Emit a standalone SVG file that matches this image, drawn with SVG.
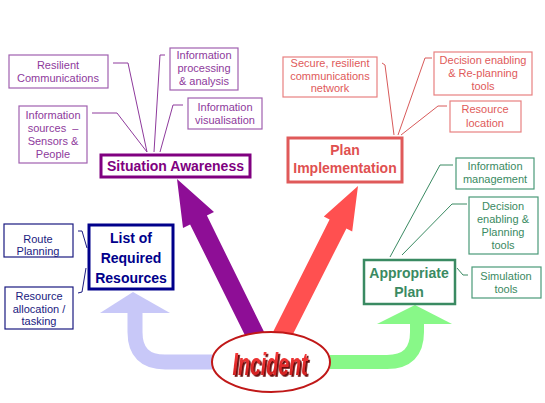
<svg xmlns="http://www.w3.org/2000/svg" width="545" height="403" viewBox="0 0 545 403">
<style>
text{font-family:"Liberation Sans",Arial,sans-serif;text-anchor:middle}
.sm{font-size:11px}
.big{font-size:14px;font-weight:bold}
.pb{fill:#fff;stroke:#a060b0;stroke-width:1.2}
.pt{fill:#8e3a9c}
.rb{fill:#fff;stroke:#e88080;stroke-width:1.2}
.rt{fill:#e05a5a}
.gb{fill:#fff;stroke:#4a9a78;stroke-width:1.2}
.gt{fill:#3a8a62}
.bb{fill:#fff;stroke:#1a1a80;stroke-width:1.2}
.bt{fill:#1a1a80}
.pl{fill:none;stroke:#8e3a9c;stroke-width:1}
.rl{fill:none;stroke:#d85a5a;stroke-width:1}
.gl{fill:none;stroke:#3a8a62;stroke-width:1}
.bl{fill:none;stroke:#1a1a80;stroke-width:1}
</style>
<defs>
  <filter id="shadow" x="-10%" y="-20%" width="130%" height="150%">
    <feDropShadow dx="1.8" dy="1.8" stdDeviation="0.3" flood-color="#6a0c0c" flood-opacity="1"/>
  </filter>
  <linearGradient id="incg" x1="0" y1="0" x2="0" y2="1">
    <stop offset="0" stop-color="#ff4040"/>
    <stop offset="1" stop-color="#c81818"/>
  </linearGradient>
</defs>
<rect width="545" height="403" fill="#fff"/>
<g id="connectors">
  <path d="M213 362 L165 362 Q135 362 135 332 L135 312" fill="none" stroke="#c8c8f8" stroke-width="15"/>
  <polygon points="100,313 133,292 170,313" fill="#c8c8f8"/>
  <path d="M330 362 L387 362 Q417 362 417 332 L417 323" fill="none" stroke="#88f888" stroke-width="14"/>
  <polygon points="377,324 415,305 452,324" fill="#88f888"/>
  <polygon points="177,179 214,211.9 206.9,215.6 265.6,335 248.8,343 190.1,224.4 183,228.1" fill="#8e0e96"/>
  <polygon points="358,186 352.2,231.5 346.4,228.4 289,342 272,334 329.6,219.6 323.8,216.5" fill="#ff5050"/>
  <path class="pl" d="M113 63 L128 63 L147 152"/>
  <path class="pl" d="M92 113 L117 113 L147 152"/>
  <path class="pl" d="M165 55 L160 55 L154 152"/>
  <path class="pl" d="M183 105 L173 105 L160 152"/>
  <path class="rl" d="M382 63 L385 65 L394 135"/>
  <path class="rl" d="M432 58 L425 58 L398 135"/>
  <path class="rl" d="M447 106 L438 106 L401 135"/>
  <path class="gl" d="M453 165 L440 165 L390 257"/>
  <path class="gl" d="M467 204 L452 204 L402 255"/>
  <path class="gl" d="M457 268 L463 275 L468 275"/>
  <path class="bl" d="M78 231 L82 231 L87 248"/>
  <path class="bl" d="M86 268 L82 292 L78 293"/>
</g>
<g id="resilient-comms">
  <rect class="pb" x="9" y="55" width="99" height="33"/>
  <text class="sm pt" x="58" y="69">Resilient</text>
  <text class="sm pt" x="58" y="82">Communications</text>
</g>
<g id="info-sources">
  <rect class="pb" x="19" y="106" width="68" height="57"/>
  <text class="sm pt" x="53" y="119">Information</text>
  <text class="sm pt" x="53" y="132" xml:space="preserve">sources  –</text>
  <text class="sm pt" x="53" y="145">Sensors &amp;</text>
  <text class="sm pt" x="53" y="158">People</text>
</g>
<g id="info-processing">
  <rect class="pb" x="170" y="48" width="68" height="42"/>
  <text class="sm pt" x="204" y="59">Information</text>
  <text class="sm pt" x="204" y="72">processing</text>
  <text class="sm pt" x="204" y="85">&amp; analysis</text>
</g>
<g id="info-visualisation">
  <rect class="pb" x="188" y="98" width="74" height="31"/>
  <text class="sm pt" x="225" y="111">Information</text>
  <text class="sm pt" x="225" y="124">visualisation</text>
</g>
<g id="situation-awareness">
  <rect x="101" y="155" width="149" height="22" fill="#fff" stroke="#800080" stroke-width="3"/>
  <text class="big" x="175.5" y="171" fill="#800080" font-size="13.5px">Situation Awareness</text>
</g>
<g id="secure-network">
  <rect class="rb" x="283" y="57" width="94" height="40"/>
  <text class="sm rt" x="330" y="67">Secure, resilient</text>
  <text class="sm rt" x="330" y="80">communications</text>
  <text class="sm rt" x="330" y="92">network</text>
</g>
<g id="decision-replanning">
  <rect class="rb" x="434" y="52" width="98" height="43"/>
  <text class="sm rt" x="483" y="64">Decision enabling</text>
  <text class="sm rt" x="483" y="77">&amp; Re-planning</text>
  <text class="sm rt" x="483" y="90">tools</text>
</g>
<g id="resource-location">
  <rect class="rb" x="450" y="101" width="71" height="31"/>
  <text class="sm rt" x="485" y="113">Resource</text>
  <text class="sm rt" x="485" y="127">location</text>
</g>
<g id="plan-implementation">
  <rect x="288" y="138" width="114" height="44" fill="#fff" stroke="#e05a5a" stroke-width="3"/>
  <text class="big" x="345" y="155" fill="#e05050">Plan</text>
  <text class="big" x="345" y="173" fill="#e05050">Implementation</text>
</g>
<g id="info-management">
  <rect class="gb" x="456" y="158" width="78" height="31"/>
  <text class="sm gt" x="495" y="170">Information</text>
  <text class="sm gt" x="495" y="183">management</text>
</g>
<g id="decision-planning">
  <rect class="gb" x="469" y="197" width="69" height="57"/>
  <text class="sm gt" x="503" y="210">Decision</text>
  <text class="sm gt" x="503" y="223">enabling &amp;</text>
  <text class="sm gt" x="503" y="236">Planning</text>
  <text class="sm gt" x="503" y="249">tools</text>
</g>
<g id="simulation-tools">
  <rect class="gb" x="472" y="267" width="69" height="31"/>
  <text class="sm gt" x="506" y="280">Simulation</text>
  <text class="sm gt" x="506" y="293">tools</text>
</g>
<g id="appropriate-plan">
  <rect x="364" y="260" width="91" height="44" fill="#fff" stroke="#3a8a62" stroke-width="2.5"/>
  <text class="big" x="409" y="278" fill="#3a8a62" font-size="13.5px">Appropriate</text>
  <text class="big" x="409" y="297" fill="#3a8a62" font-size="13.5px">Plan</text>
</g>
<g id="route-planning">
  <rect class="bb" x="4" y="224" width="69" height="33"/>
  <text class="sm bt" x="38" y="243">Route</text>
  <text class="sm bt" x="38" y="255">Planning</text>
</g>
<g id="resource-allocation">
  <rect class="bb" x="5" y="287" width="68" height="42"/>
  <text class="sm bt" x="39" y="300">Resource</text>
  <text class="sm bt" x="39" y="313">allocation /</text>
  <text class="sm bt" x="39" y="325">tasking</text>
</g>
<g id="required-resources">
  <rect x="89" y="225" width="84" height="64" fill="#fff" stroke="#00008b" stroke-width="3"/>
  <text class="big" x="131" y="243" fill="#00008b">List of</text>
  <text class="big" x="131" y="263" fill="#00008b">Required</text>
  <text class="big" x="131" y="283" fill="#00008b">Resources</text>
</g>
<g id="incident">
  <ellipse cx="271" cy="362" rx="59" ry="30" fill="#fff" stroke="#c01818" stroke-width="2"/>
  <text x="270" y="375" font-size="31px" font-weight="bold" font-style="italic" fill="url(#incg)" filter="url(#shadow)" textLength="75" lengthAdjust="spacingAndGlyphs">Incident</text>
</g>
</svg>
